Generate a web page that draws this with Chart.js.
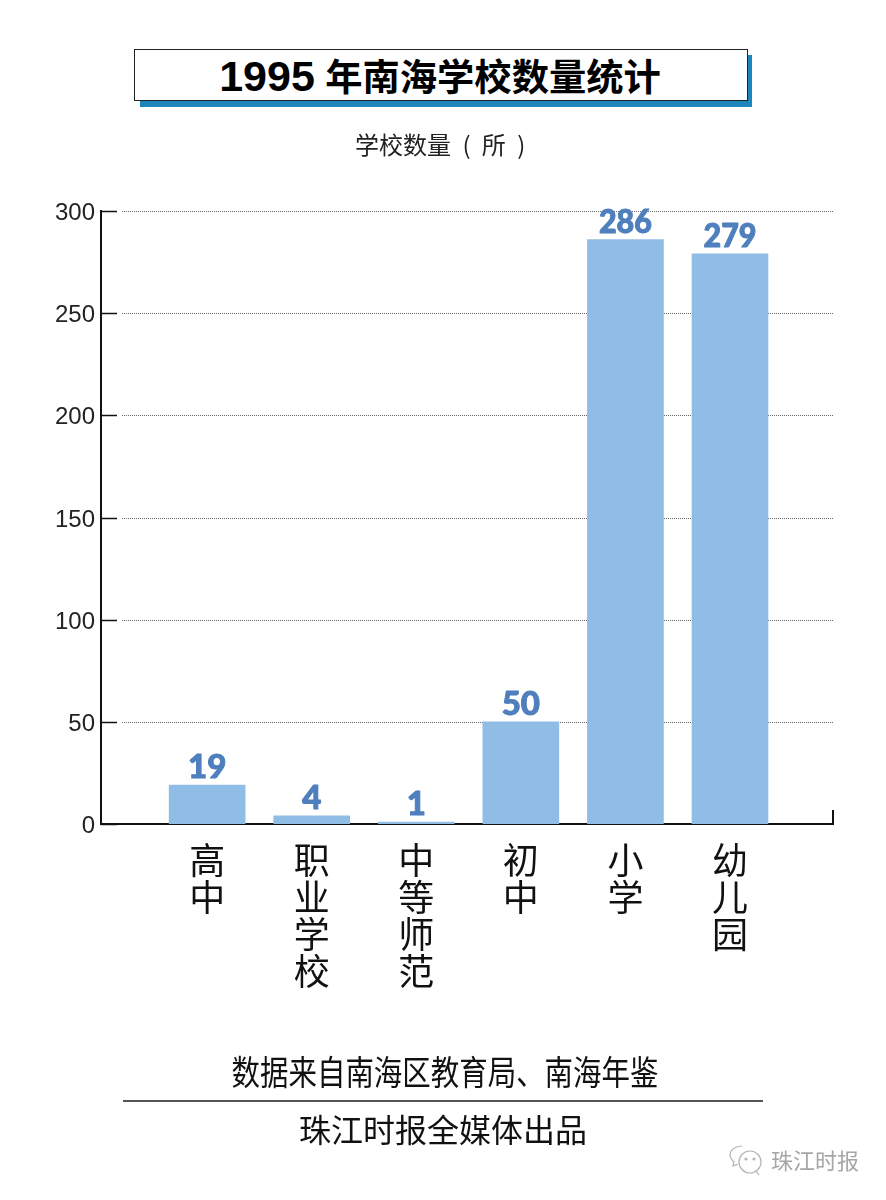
<!DOCTYPE html>
<html lang="zh">
<head>
<meta charset="utf-8">
<title>1995 年南海学校数量统计</title>
<script src="https://cdn.jsdelivr.net/npm/chart.js@4"></script>
<style>
  html, body { margin: 0; padding: 0; background: #fff; }
  #page { position: relative; width: 886px; height: 1200px; overflow: hidden; font-family: "Noto Sans CJK SC", sans-serif; color: #111; }
  #page canvas { position: absolute; left: 0; top: 0; }
  .abs { position: absolute; white-space: nowrap; }
  #shadow { left: 140px; top: 55px; width: 612px; height: 52px; background: #1b87bd; }
  #box { left: 134px; top: 49px; width: 612px; height: 50px; background: #fff; border: 1px solid #222; }
  #title { left: 134px; top: 51px; width: 612px; text-align: center; font: bold 37.3px/50px "Liberation Sans", "Noto Sans CJK SC", sans-serif; color: #000; }
  #title b { font-size: 43px; }
  #unit { left: 355px; top: 126px; font-size: 24px; line-height: 36px; color: #222; word-spacing: 6px; }
  .foot { left: 443px; color: #111; }
  #source { top: 1049px; left: 444.5px; font-size: 34px; line-height: 44px; transform: translateX(-50%) scaleX(0.837); }
  #rule { left: 123px; top: 1100px; width: 640px; height: 2px; background: #555; }
  #maker { top: 1107px; font-size: 32px; line-height: 42px; transform: translateX(-50%); }
  #mark { left: 771px; top: 1144px; font-size: 22px; line-height: 30px; color: #a6a6a6; }
  #wx { left: 729px; top: 1143px; }
</style>
</head>
<body>
<div id="page">
  <canvas id="chart" width="886" height="1200"></canvas>
  <div class="abs" id="shadow"></div>
  <div class="abs" id="box"></div>
  <div class="abs" id="title"><b>1995</b> 年南海学校数量统计</div>
  <div class="abs" id="unit">学校数量 ( 所 )</div>
  <div class="abs foot" id="source">数据来自南海区教育局、南海年鉴</div>
  <div class="abs" id="rule"></div>
  <div class="abs foot" id="maker">珠江时报全媒体出品</div>
  <svg class="abs" id="wx" width="36" height="34" viewBox="0 0 36 34" fill="none" stroke="#b4b4b4" stroke-width="1.2">
    <path d="M13 3 C6 3 1 7 1 12 C1 15 3 17 5 19 L4 23 L9 21"/>
    <circle cx="21" cy="19" r="11"/>
    <path d="M27 28 L30 32"/>
    <circle cx="17" cy="16" r="1" fill="#b4b4b4"/>
    <circle cx="25" cy="16" r="1" fill="#b4b4b4"/>
  </svg>
  <div class="abs" id="mark">珠江时报</div>
</div>
<script>
// данные
const categories = ['高中', '职业学校', '中等师范', '初中', '小学', '幼儿园'];
const schoolCounts = [19, 4, 1, 50, 286, 279];
const yTicks = [0, 50, 100, 150, 200, 250, 300];

const barColor = '#90bde6';
const valueColor = '#4f7fbd';
const axisColor = '#111';

// короткие засечки внутри осей и пунктирная сетка
const axisMarks = {
  id: 'axisMarks',
  beforeDatasetsDraw(chart) {
    const { ctx, chartArea, scales } = chart;
    ctx.save();
    yTicks.forEach(v => {
      const y = Math.round(scales.y.getPixelForValue(v)) + 0.5;
      if (v > 0) {
        ctx.strokeStyle = '#666';
        ctx.lineWidth = 1;
        ctx.setLineDash([1, 1]);
        ctx.beginPath();
        ctx.moveTo(chartArea.left + 21, y);
        ctx.lineTo(chartArea.right, y);
        ctx.stroke();
      }
      ctx.setLineDash([]);
      ctx.strokeStyle = axisColor;
      ctx.lineWidth = 1.5;
      ctx.beginPath();
      ctx.moveTo(chartArea.left, y);
      ctx.lineTo(chartArea.left + 16, y);
      ctx.stroke();
    });
    // хвостик на правом конце оси X
    ctx.lineWidth = 2;
    ctx.beginPath();
    ctx.moveTo(chartArea.right, chartArea.bottom);
    ctx.lineTo(chartArea.right, chartArea.bottom - 14);
    ctx.stroke();
    ctx.restore();
  }
};

// подписи значений над столбцами
const barValues = {
  id: 'barValues',
  afterDatasetsDraw(chart) {
    const { ctx } = chart;
    ctx.save();
    ctx.font = '900 33px Lato, "Open Sans", sans-serif';
    ctx.textAlign = 'center';
    ctx.textBaseline = 'alphabetic';
    ctx.fillStyle = valueColor;
    ctx.strokeStyle = valueColor;
    ctx.lineWidth = 1;
    ctx.lineJoin = 'round';
    chart.getDatasetMeta(0).data.forEach((bar, i) => {
      const text = String(schoolCounts[i]);
      ctx.fillText(text, bar.x, bar.y - 7, 53);
      ctx.strokeText(text, bar.x, bar.y - 7, 53);
    });
    ctx.restore();
  }
};

new Chart(document.getElementById('chart').getContext('2d'), {
  type: 'bar',
  data: {
    datasets: [{
      data: schoolCounts.map((y, i) => ({ x: i + 1, y })),
      backgroundColor: barColor,
      barThickness: 76
    }]
  },
  options: {
    responsive: false,
    animation: false,
    layout: { padding: { top: 211, right: 53, left: 0, bottom: 0 } },
    plugins: { legend: { display: false }, tooltip: { enabled: false } },
    scales: {
      x: {
        type: 'linear',
        offset: false,
        min: -0.015,
        max: 6.985,
        afterFit(scale) { scale.height = 376; },
        afterBuildTicks(scale) { scale.ticks = categories.map((c, i) => ({ value: i + 1 })); },
        grid: { display: false, drawTicks: false },
        border: { display: true, color: axisColor, width: 2 },
        ticks: {
          autoSkip: false,
          maxRotation: 0,
          padding: 18,
          color: '#111',
          font: { family: '"Noto Sans CJK SC", sans-serif', size: 36, lineHeight: 1.03 },
          callback(value) {
            return categories[value - 1].split('');
          }
        }
      },
      y: {
        min: 0,
        max: 300,
        afterFit(scale) { scale.width = 101; },
        afterBuildTicks(scale) { scale.ticks = yTicks.map(v => ({ value: v })); },
        grid: { display: false, drawTicks: false },
        border: { display: true, color: axisColor, width: 2 },
        ticks: {
          padding: 6,
          labelOffset: 2.5,
          color: '#222',
          font: { family: '"Liberation Sans", sans-serif', size: 24 }
        }
      }
    }
  },
  plugins: [axisMarks, barValues]
});
</script>
</body>
</html>
